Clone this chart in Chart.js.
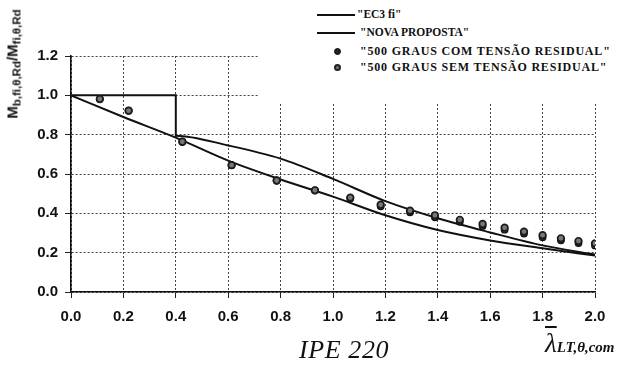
<!DOCTYPE html>
<html><head><meta charset="utf-8">
<script src="https://cdn.jsdelivr.net/npm/chart.js@4/dist/chart.umd.min.js"></script>
<style>
html,body{margin:0;padding:0;background:#fff;}
#wrap{position:relative;width:626px;height:367px;overflow:hidden;}
#c{position:absolute;left:0;top:0;}
#legend{position:absolute;left:258px;top:0;width:368px;height:102px;background:#fff;font-family:"Liberation Serif",serif;font-size:12px;color:#111;font-weight:bold;}
.li{position:absolute;white-space:nowrap;line-height:13px;}
.ln{position:absolute;height:2px;background:#111;}
.dot{position:absolute;width:7px;height:7px;border-radius:50%;box-sizing:border-box;}
#ylab{position:absolute;left:13px;top:64px;transform:translate(-50%,-50%) rotate(-90deg);font-family:"Liberation Sans",Arial,sans-serif;font-weight:bold;font-size:15px;color:#111;white-space:nowrap;}
#ylab sub{font-size:11.5px;vertical-align:-3px;}
#ipe{position:absolute;left:299px;top:336px;font-family:"Liberation Serif",serif;font-style:italic;font-size:26px;letter-spacing:0.6px;color:#111;white-space:nowrap;line-height:28px;}
#lam{position:absolute;left:545px;top:328px;font-family:"Liberation Serif",serif;color:#111;white-space:nowrap;}
#lam .l{font-style:italic;font-size:27px;text-decoration:overline;text-decoration-thickness:1.5px;}
#lam .s{font-style:italic;font-weight:bold;font-size:15px;}
</style></head>
<body>
<div id="wrap">
<canvas id="c" width="626" height="367"></canvas>
<div id="legend">
  <div class="ln" style="left:59px;top:14px;width:38px;"></div>
  <div class="li" style="left:99px;top:8px;font-size:11.5px;">"EC3 fi"</div>
  <div class="ln" style="left:59px;top:32px;width:38px;"></div>
  <div class="li" style="left:102px;top:26px;font-size:11.5px;">"NOVA PROPOSTA"</div>
  <div class="dot" style="left:76px;top:48px;background:#222;border:1px solid #111;"></div>
  <div class="li" style="left:102px;top:45px;letter-spacing:0.8px;">"500 GRAUS COM TENSÃO RESIDUAL"</div>
  <div class="dot" style="left:76px;top:64px;background:#777;border:2px solid #222;"></div>
  <div class="li" style="left:102px;top:61px;letter-spacing:0.8px;">"500 GRAUS SEM TENSÃO RESIDUAL"</div>
</div>
<div id="ylab">M<sub>b,fi,θ,Rd</sub>/M<sub>fi,θ,Rd</sub></div>
<div id="ipe">IPE 220</div>
<div id="lam"><span class="l">λ</span><span class="s">LT,θ,com</span></div>
</div>
<script>
// Data
const xTicks = [0.0, 0.2, 0.4, 0.6, 0.8, 1.0, 1.2, 1.4, 1.6, 1.8, 2.0];
const yTicks = [0.0, 0.2, 0.4, 0.6, 0.8, 1.0, 1.2];

const ec3X = [0.0, 0.4, 0.4, 0.6, 0.8, 1.0, 1.2, 1.4, 1.6, 1.8, 2.0];
const ec3Y = [1.0, 1.0, 0.795, 0.745, 0.678, 0.575, 0.462, 0.375, 0.303, 0.237, 0.19];

const novaX = [0.0, 0.2, 0.4, 0.6, 0.8, 1.0, 1.2, 1.4, 1.6, 1.8, 2.0];
const novaY = [1.0, 0.89, 0.785, 0.668, 0.572, 0.485, 0.39, 0.315, 0.262, 0.222, 0.185];

const testX = [0.11, 0.22, 0.425, 0.613, 0.785, 0.931, 1.066, 1.182, 1.294, 1.389, 1.484, 1.571, 1.655, 1.729, 1.80, 1.87, 1.937, 2.0];
const comY  = [0.981, 0.922, 0.764, 0.645, 0.567, 0.517, 0.476, 0.436, 0.405, 0.380, 0.357, 0.336, 0.317, 0.297, 0.279, 0.263, 0.249, 0.237];
const semY  = [0.981, 0.922, 0.764, 0.645, 0.567, 0.517, 0.480, 0.444, 0.414, 0.390, 0.367, 0.346, 0.327, 0.307, 0.289, 0.273, 0.259, 0.247];

const pts = (xs, ys) => xs.map((x, i) => ({x: x, y: ys[i]}));
const tickFont = {family: '"Liberation Sans", Arial, sans-serif', size: 15, weight: 'bold'};

new Chart(document.getElementById('c'), {
  type: 'scatter',
  data: {
    datasets: [
      {label: '"EC3 fi"', data: pts(ec3X, ec3Y), showLine: true, pointRadius: 0,
       borderColor: '#111', borderWidth: 2, cubicInterpolationMode: 'monotone', order: 3},
      {label: '"NOVA PROPOSTA"', data: pts(novaX, novaY), showLine: true, pointRadius: 0,
       borderColor: '#111', borderWidth: 2, cubicInterpolationMode: 'monotone', order: 4},
      {label: '"500 GRAUS COM TENSÃO RESIDUAL"', data: pts(testX, comY), showLine: false,
       pointRadius: 3.3, pointBackgroundColor: '#333', pointBorderColor: '#111', pointBorderWidth: 1.2, order: 2},
      {label: '"500 GRAUS SEM TENSÃO RESIDUAL"', data: pts(testX, semY), showLine: false,
       pointRadius: 3.3, pointBackgroundColor: '#777', pointBorderColor: '#1a1a1a', pointBorderWidth: 1.7, order: 1}
    ]
  },
  options: {
    responsive: false,
    animation: false,
    devicePixelRatio: 1,
    layout: {padding: {top: 56, right: 31, left: 0, bottom: 0}},
    plugins: {legend: {display: false}, tooltip: {enabled: false}},
    scales: {
      x: {
        type: 'linear', min: 0, max: 2,
        afterFit: s => { s.height = 75; },
        afterBuildTicks: s => { s.ticks = xTicks.map(v => ({value: v})); },
        ticks: {callback: v => v.toFixed(1), color: '#111', padding: 10, font: tickFont},
        grid: {color: '#444', lineWidth: 1, tickLength: 6, tickColor: '#222'},
        border: {display: true, color: '#111', width: 1.6, dash: [2, 2]},
      },
      y: {
        type: 'linear', min: 0, max: 1.2,
        afterFit: s => { s.width = 71; },
        afterBuildTicks: s => { s.ticks = yTicks.map(v => ({value: v})); },
        ticks: {callback: v => v.toFixed(1), color: '#111', padding: 7, font: tickFont},
        grid: {color: '#444', lineWidth: 1, tickLength: 6, tickColor: '#222'},
        border: {display: true, color: '#111', width: 1.6, dash: [2, 2]},
      }
    }
  }
});
</script>
</body></html>
